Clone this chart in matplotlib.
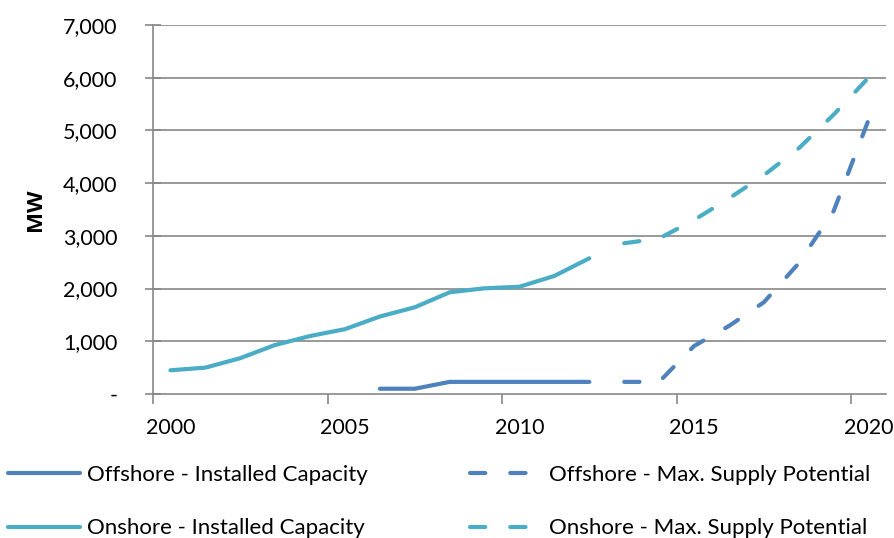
import matplotlib
matplotlib.use("Agg")
import matplotlib.pyplot as plt
from matplotlib.ticker import FixedLocator, FuncFormatter

plt.rcParams['font.family'] = ['Lato', 'DejaVu Sans']
plt.rcParams['lines.scale_dashes'] = False

# Data
years_on_inst = [2000, 2001, 2002, 2003, 2004, 2005, 2006, 2007, 2008, 2009, 2010, 2011, 2012]
onshore_installed = [450, 500, 680, 930, 1100, 1230, 1470, 1645, 1930, 2005, 2035, 2240, 2575]
years_max = [2013, 2014, 2015, 2016, 2017, 2018, 2019, 2020]
onshore_max = [2860, 2950, 3300, 3710, 4150, 4660, 5300, 6000]
years_off_inst = [2006, 2007, 2008, 2009, 2010, 2011, 2012]
offshore_installed = [100, 100, 230, 230, 230, 230, 230]
offshore_max = [230, 230, 910, 1290, 1740, 2480, 3470, 5200]

x_labels = [2000, 2005, 2010, 2015, 2020]
y_ticks = [0, 1000, 2000, 3000, 4000, 5000, 6000, 7000]

c_off = '#4F81BD'
c_on = '#4BACC6'
grid_c = '#878787'

fig = plt.figure(figsize=(8.95, 5.38), dpi=100)
ax = fig.add_axes([153/895, 1-394/538, (886-153)/895, (394-25)/538])

lw = 3.0
dash = (11, 18)
l1, = ax.plot(years_off_inst, offshore_installed, color=c_off, lw=lw,
              solid_capstyle='round', solid_joinstyle='round', label='Offshore - Installed Capacity')
l2, = ax.plot(years_max, offshore_max, color=c_off, lw=lw, dashes=dash,
              dash_capstyle='round', dash_joinstyle='round', label='Offshore - Max. Supply Potential')
l3, = ax.plot(years_on_inst, onshore_installed, color=c_on, lw=lw,
              solid_capstyle='round', solid_joinstyle='round', label='Onshore - Installed Capacity')
l4, = ax.plot(years_max, onshore_max, color=c_on, lw=lw, dashes=dash,
              dash_capstyle='round', dash_joinstyle='round', label='Onshore - Max. Supply Potential')

ax.set_xlim(1999.5, 2020.5)
ax.set_ylim(0, 7000)

ax.yaxis.set_major_locator(FixedLocator(y_ticks))
ax.yaxis.set_major_formatter(FuncFormatter(lambda v, p: '-' if v == 0 else f'{int(v):,}'))
for yv in y_ticks[1:]:
    ax.axhline(yv, color=grid_c, lw=1.2, zorder=0)

ax.xaxis.set_major_locator(FixedLocator(x_labels))
ax.xaxis.set_major_formatter(FuncFormatter(lambda v, p: f'{int(v)}'))
ax.xaxis.set_minor_locator(FixedLocator([1999.5, 2004.5, 2009.5, 2014.5, 2019.5]))
ax.tick_params(axis='x', which='major', length=0, pad=17, labelsize=15.5)
ax.tick_params(axis='x', which='minor', length=7, width=1.2, color=grid_c, direction='out')
ax.tick_params(axis='y', which='major', length=11, width=1.2, color=grid_c, direction='inout',
               pad=20, labelsize=15.5)

for s in ['top', 'right']:
    ax.spines[s].set_visible(False)
for s in ['left', 'bottom']:
    ax.spines[s].set_color(grid_c)
    ax.spines[s].set_linewidth(1.2)

ax.set_ylabel('MW', fontsize=16, fontweight='bold', family=['Open Sans', 'DejaVu Sans'])
ax.yaxis.set_label_coords((46-153)/733, 0.5)

leg = fig.legend(handles=[l1, l3, l2, l4], loc='upper left', ncol=2,
                 bbox_to_anchor=(8/895, 1-465/538), frameon=False,
                 fontsize=16, handlelength=3.25, handletextpad=0.3,
                 labelspacing=1.5, columnspacing=4.6, borderpad=0, borderaxespad=0)

fig.savefig('out.png', dpi=100)
